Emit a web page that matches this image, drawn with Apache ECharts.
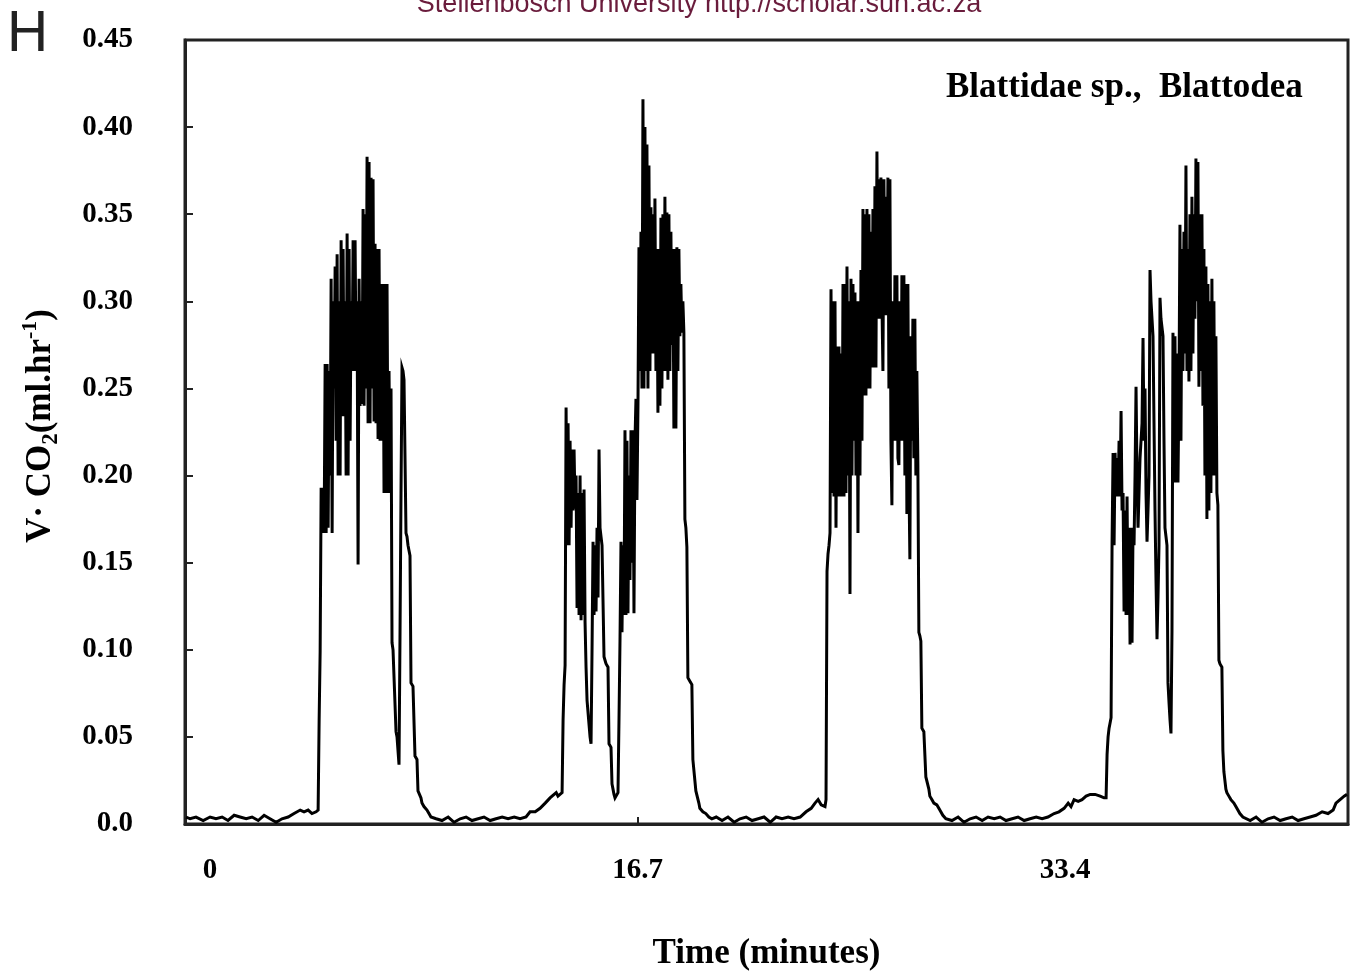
<!doctype html>
<html>
<head>
<meta charset="utf-8">
<script src="https://cdn.jsdelivr.net/npm/echarts@6/dist/echarts.min.js"></script>
<style>
  html, body { margin: 0; padding: 0; background: #fff; }
  #main { width: 1353px; height: 976px; }
</style>
</head>
<body>
<div id="main"></div>
<script type="text/javascript">
// resting phases: time (minutes) and V CO2 (ml/hr) pairs
var rest1Min = [-0.94, -0.78, -0.55, -0.27, 0, 0.23, 0.47, 0.70, 0.94, 1.17, 1.41, 1.64, 1.88, 2.11, 2.34, 2.58, 2.81, 3.05, 3.28, 3.52, 3.67, 3.83, 3.98, 4.14, 4.22];
var rest1Vco2 = [0.004, 0.003, 0.004, 0.002, 0.004, 0.003, 0.004, 0.002, 0.005, 0.004, 0.003, 0.004, 0.002, 0.005, 0.003, 0.001, 0.003, 0.004, 0.006, 0.008, 0.007, 0.008, 0.006, 0.007, 0.008];
var rest2Min = [8.83, 9.06, 9.30, 9.53, 9.77, 10.00, 10.23, 10.47, 10.70, 10.94, 11.17, 11.41, 11.64, 11.88, 12.11, 12.34, 12.50, 12.70, 12.89, 13.09, 13.28, 13.52, 13.59];
var rest2Vco2 = [0.003, 0.002, 0.004, 0.001, 0.003, 0.004, 0.002, 0.003, 0.004, 0.002, 0.003, 0.004, 0.003, 0.004, 0.003, 0.004, 0.007, 0.007, 0.009, 0.012, 0.015, 0.018, 0.016];
var rest3Min = [19.77, 20.00, 20.23, 20.47, 20.70, 20.94, 21.17, 21.41, 21.64, 21.88, 22.11, 22.34, 22.58, 22.81, 23.05, 23.28, 23.48, 23.63, 23.75, 23.87, 24.02];
var rest3Vco2 = [0.004, 0.002, 0.004, 0.001, 0.003, 0.004, 0.002, 0.003, 0.004, 0.001, 0.004, 0.003, 0.004, 0.003, 0.004, 0.007, 0.009, 0.012, 0.014, 0.011, 0.010];
var rest4Min = [28.98, 29.22, 29.45, 29.69, 29.92, 30.16, 30.39, 30.63, 30.86, 31.09, 31.33, 31.56, 31.80, 32.03, 32.27, 32.50, 32.73, 32.97, 33.16, 33.36, 33.52, 33.63, 33.75, 33.91, 34.06, 34.22, 34.38, 34.57, 34.77, 34.92];
var rest4Vco2 = [0.002, 0.004, 0.001, 0.003, 0.004, 0.002, 0.004, 0.003, 0.004, 0.002, 0.003, 0.004, 0.002, 0.003, 0.004, 0.003, 0.004, 0.006, 0.007, 0.009, 0.012, 0.010, 0.014, 0.013, 0.014, 0.016, 0.017, 0.017, 0.016, 0.015];
var rest5Min = [40.63, 40.86, 41.09, 41.33, 41.56, 41.80, 42.03, 42.27, 42.50, 42.73, 42.97, 43.20, 43.44, 43.67, 43.87, 43.98, 44.14, 44.30, 44.41];
var rest5Vco2 = [0.002, 0.004, 0.001, 0.003, 0.004, 0.002, 0.003, 0.004, 0.002, 0.003, 0.004, 0.005, 0.007, 0.006, 0.008, 0.012, 0.014, 0.016, 0.017];

// bursts: logger samples every sampleMin minutes from the given start
var sampleMin = 0.039;
var burst1Start = 4.26;
var burst1Vco2 = [
    0.06, 0.099, 0.193, 0.167, 0.193, 0.167, 0.264, 0.167, 0.264, 0.17, 0.26, 0.20,
    0.313, 0.167, 0.30, 0.25, 0.32, 0.22, 0.327, 0.20, 0.30, 0.20,
    0.335, 0.234, 0.33, 0.234, 0.30, 0.20, 0.339, 0.20, 0.33, 0.22,
    0.30, 0.26, 0.335, 0.26, 0.335, 0.26, 0.30, 0.149, 0.313, 0.24,
    0.30, 0.241, 0.353, 0.24, 0.35, 0.25, 0.383, 0.23, 0.38, 0.23,
    0.371, 0.25, 0.37, 0.231, 0.333, 0.23, 0.33, 0.221, 0.33, 0.22,
    0.31, 0.22, 0.31, 0.19, 0.31, 0.19, 0.31, 0.19, 0.26, 0.19, 0.25,
    0.104, 0.10, 0.10, 0.10, 0.053, 0.05, 0.05, 0.034, 0.109, 0.19, 0.262, 0.26, 0.255, 0.255,
    0.167, 0.165, 0.16, 0.157, 0.154, 0.081, 0.08, 0.079, 0.078, 0.039, 0.038, 0.037, 0.019,
    0.019, 0.018, 0.015, 0.012, 0.011, 0.010, 0.010, 0.009, 0.008, 0.008, 0.006, 0.005, 0.004
];
var burst2Start = 13.75;
var burst2Vco2 = [
    0.018, 0.06, 0.08, 0.091, 0.239, 0.16, 0.23, 0.16, 0.22, 0.17,
    0.215, 0.18, 0.215, 0.181, 0.20, 0.124, 0.19, 0.12, 0.20, 0.117,
    0.19, 0.12, 0.192, 0.116, 0.09, 0.071, 0.07, 0.07, 0.05, 0.046,
    0.10, 0.162, 0.12, 0.16, 0.122, 0.17, 0.13, 0.215, 0.17, 0.17,
    0.16, 0.16, 0.096, 0.094, 0.092, 0.091, 0.09, 0.046, 0.045, 0.044,
    0.023, 0.02, 0.017, 0.015, 0.015, 0.016, 0.018, 0.06, 0.105, 0.162,
    0.11, 0.16, 0.12, 0.226, 0.12, 0.22, 0.121, 0.20, 0.14, 0.226,
    0.15, 0.226, 0.121, 0.22, 0.244, 0.186, 0.24, 0.331, 0.26, 0.34,
    0.25, 0.416, 0.25, 0.40, 0.26, 0.39, 0.25, 0.378, 0.26, 0.354,
    0.27, 0.35, 0.27, 0.359, 0.26, 0.33, 0.236, 0.33, 0.24, 0.348,
    0.25, 0.35, 0.26, 0.36, 0.26, 0.351, 0.255, 0.35, 0.26, 0.34,
    0.275, 0.33, 0.227, 0.33, 0.227, 0.331, 0.26, 0.33, 0.28, 0.31,
    0.282, 0.30, 0.282, 0.175, 0.17, 0.159, 0.084, 0.083, 0.082, 0.081,
    0.08, 0.037, 0.036, 0.036, 0.019, 0.019, 0.018, 0.012, 0.009, 0.008,
    0.008, 0.007, 0.007, 0.006, 0.006, 0.006, 0.005, 0.004, 0.004, 0.003, 0.003
];
var burst3Start = 24.06;
var burst3Vco2 = [
    0.014, 0.145, 0.155, 0.16, 0.167, 0.307, 0.19, 0.30, 0.188, 0.30,
    0.17, 0.274, 0.188, 0.274, 0.188, 0.27, 0.188, 0.31, 0.188, 0.31,
    0.19, 0.32, 0.20, 0.30, 0.132, 0.313, 0.20, 0.31, 0.22, 0.305,
    0.20, 0.30, 0.167, 0.30, 0.20, 0.318, 0.22, 0.353, 0.246, 0.35,
    0.246, 0.353, 0.25, 0.35, 0.25, 0.34, 0.262, 0.353, 0.262, 0.366,
    0.262, 0.386, 0.29, 0.37, 0.29, 0.371, 0.30, 0.26, 0.37, 0.292,
    0.36, 0.292, 0.371, 0.25, 0.37, 0.22, 0.183, 0.30, 0.22, 0.315,
    0.22, 0.315, 0.21, 0.206, 0.30, 0.22, 0.315, 0.22, 0.315, 0.20,
    0.31, 0.178, 0.31, 0.20, 0.152, 0.28, 0.22, 0.29, 0.21, 0.29,
    0.20, 0.26, 0.206, 0.11, 0.108, 0.105, 0.055, 0.054, 0.053, 0.052,
    0.027, 0.027, 0.026, 0.02, 0.016, 0.015, 0.014, 0.013, 0.012, 0.012,
    0.011, 0.011, 0.010, 0.009, 0.008, 0.007, 0.006, 0.005, 0.004, 0.004, 0.003, 0.003
];
var burst4Start = 35.00;
var burst4Vco2 = [
    0.015, 0.04, 0.05, 0.055, 0.058, 0.061, 0.162, 0.213, 0.16, 0.213,
    0.188, 0.21, 0.188, 0.22, 0.188, 0.237, 0.18, 0.19, 0.122, 0.18,
    0.12, 0.188, 0.12, 0.17, 0.103, 0.17, 0.104, 0.17, 0.16, 0.20,
    0.251, 0.20, 0.17, 0.19, 0.21, 0.22, 0.23, 0.279, 0.22, 0.25,
    0.19, 0.162, 0.18, 0.20, 0.318, 0.30, 0.29, 0.28, 0.23, 0.18,
    0.14, 0.106, 0.13, 0.16, 0.302, 0.29, 0.285, 0.28, 0.22, 0.17,
    0.165, 0.16, 0.081, 0.07, 0.06, 0.052, 0.11, 0.282, 0.196, 0.28,
    0.196, 0.27, 0.196, 0.25, 0.344, 0.22, 0.33, 0.26, 0.34, 0.27,
    0.378, 0.26, 0.33, 0.254, 0.35, 0.26, 0.36, 0.27, 0.35, 0.29,
    0.382, 0.30, 0.38, 0.251, 0.35, 0.26, 0.35, 0.24, 0.33, 0.20,
    0.32, 0.175, 0.31, 0.18, 0.30, 0.19, 0.313, 0.20, 0.30, 0.20,
    0.28, 0.19, 0.183, 0.094, 0.092, 0.091, 0.09, 0.042, 0.03, 0.025,
    0.02, 0.018, 0.017, 0.016, 0.015, 0.014, 0.014, 0.013, 0.012, 0.011,
    0.010, 0.009, 0.008, 0.007, 0.006, 0.005, 0.005, 0.004, 0.004, 0.003
];

var xLabelValues = [0, 16.7, 33.4];
var xTickValues = [16.7];
var xMin = -0.98, xMax = 44.45;
var yMin = 0, yMax = 0.45, yStep = 0.05;

var trace = [];
function addPairs(mins, vals) {
    for (var i = 0; i < mins.length; i++) trace.push([mins[i], vals[i]]);
}
function addSamples(start, vals) {
    for (var i = 0; i < vals.length; i++) trace.push([+(start + i * sampleMin).toFixed(3), vals[i]]);
}
addPairs(rest1Min, rest1Vco2);
addSamples(burst1Start, burst1Vco2);
addPairs(rest2Min, rest2Vco2);
addSamples(burst2Start, burst2Vco2);
addPairs(rest3Min, rest3Vco2);
addSamples(burst3Start, burst3Vco2);
addPairs(rest4Min, rest4Vco2);
addSamples(burst4Start, burst4Vco2);
addPairs(rest5Min, rest5Vco2);

var serif = '"Liberation Serif", "Times New Roman", serif';
var sans = '"Liberation Sans", Arial, sans-serif';
var axisColor = '#222';

var myChart = echarts.init(document.getElementById('main'));

var option = {
    animation: false,
    backgroundColor: '#fff',
    grid: {
        left: 185, right: 5, top: 40, bottom: 148,
        show: true, borderColor: axisColor, borderWidth: 3, backgroundColor: 'transparent'
    },
    xAxis: {
        type: 'value',
        min: xMin,
        max: xMax,
        name: 'Time (minutes)',
        nameLocation: 'middle',
        nameGap: 112,
        nameTextStyle: { fontFamily: serif, fontWeight: 'bold', fontSize: 35, color: '#000' },
        axisLine: { show: true, onZero: false, lineStyle: { color: axisColor, width: 3 } },
        axisTick: { show: true, inside: true, length: 7, customValues: xTickValues, lineStyle: { color: axisColor, width: 2 } },
        axisLabel: {
            customValues: xLabelValues,
            formatter: function (v) { return String(v); },
            fontFamily: serif, fontWeight: 'bold', fontSize: 29, color: '#000', margin: 32
        },
        splitLine: { show: false }
    },
    yAxis: {
        type: 'value',
        min: yMin,
        max: yMax,
        interval: yStep,
        name: '{b|V}{b|·}{b| CO}{sub|2}{b|(ml.hr}{sup|-1}{b|)}',
        nameLocation: 'middle',
        nameRotate: 90,
        nameGap: 122,
        nameTextStyle: {
            color: '#000',
            padding: [0, 0, 0, 12],
            rich: {
                b: { fontFamily: serif, fontWeight: 'bold', fontSize: 35, lineHeight: 44, color: '#000' },
                sub: { fontFamily: serif, fontWeight: 'bold', fontSize: 23, lineHeight: 23, verticalAlign: 'bottom', color: '#000' },
                sup: { fontFamily: serif, fontWeight: 'bold', fontSize: 22, lineHeight: 22, verticalAlign: 'top', color: '#000' }
            }
        },
        axisLine: { show: true, onZero: false, lineStyle: { color: axisColor, width: 3 } },
        axisTick: { show: true, inside: true, length: 8, lineStyle: { color: axisColor, width: 2 } },
        axisLabel: {
            formatter: function (v) { return v === 0 ? '0.0' : v.toFixed(2); },
            fontFamily: serif, fontWeight: 'bold', fontSize: 29, color: '#000', margin: 52,
            padding: [9, 0, 0, 0]
        },
        splitLine: { show: false }
    },
    graphic: [
        {
            type: 'text', x: 7, y: 35,
            style: { text: 'H', fontFamily: sans, fontSize: 57, fill: '#222', verticalAlign: 'middle' }
        },
        {
            type: 'text', x: 699, y: 5,
            style: { text: 'Stellenbosch University http://scholar.sun.ac.za', fontFamily: sans, fontSize: 27, fill: '#6a1c3c', align: 'center', verticalAlign: 'middle' }
        },
        {
            type: 'text', x: 946, y: 88,
            style: { text: 'Blattidae sp.,  Blattodea', fontFamily: serif, fontWeight: 'bold', fontSize: 35, fill: '#000', verticalAlign: 'middle' }
        }
    ],
    series: [{
        name: 'VCO2',
        type: 'line',
        data: trace,
        showSymbol: false,
        symbol: 'none',
        clip: true,
        lineStyle: { color: '#000', width: 3, join: 'miter' }
    }]
};

myChart.setOption(option);
</script>
</body>
</html>
